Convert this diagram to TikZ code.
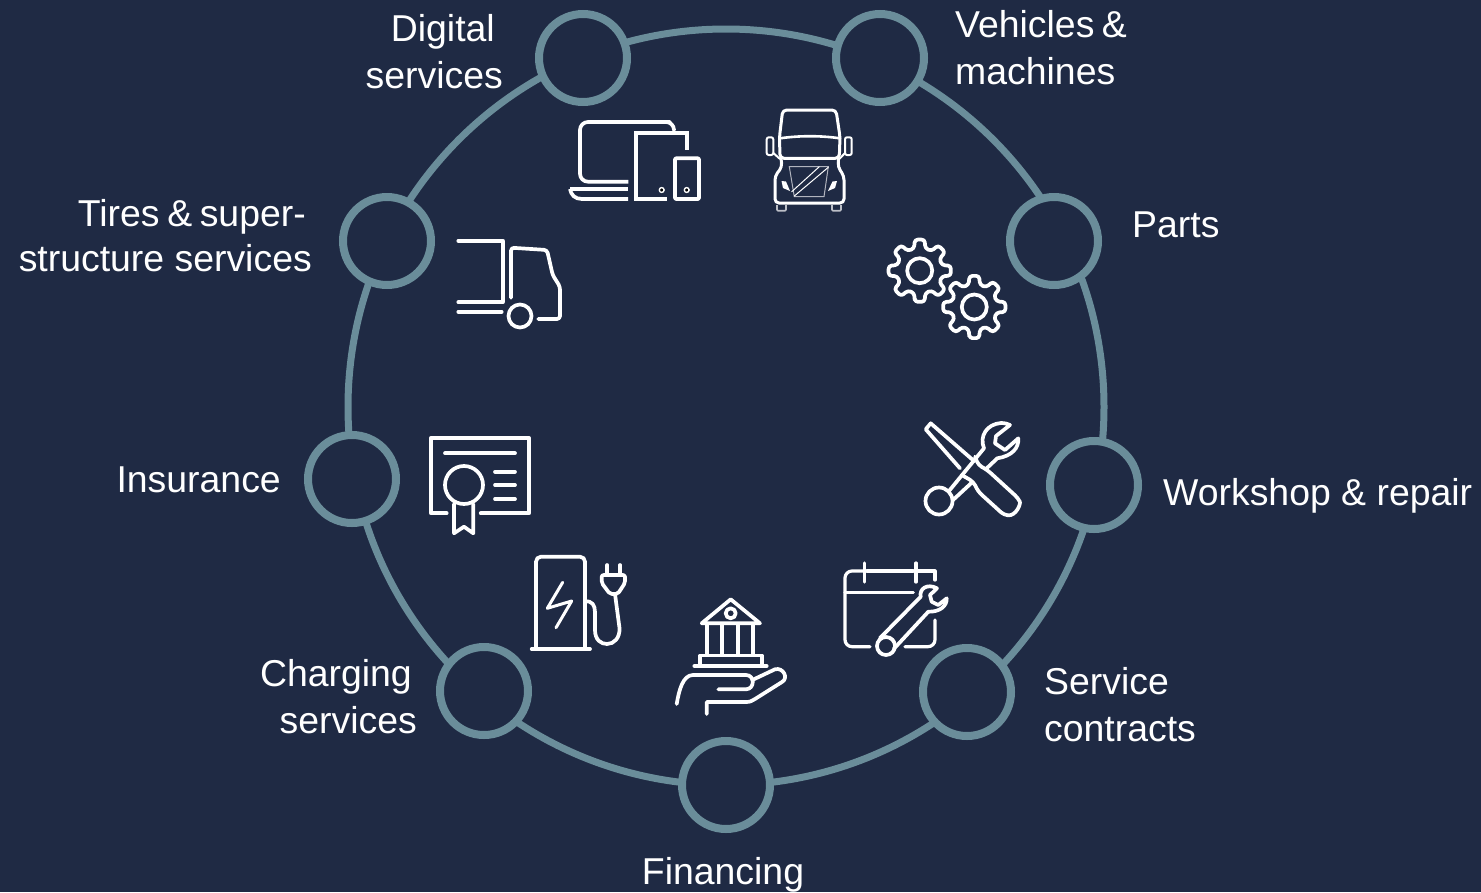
\documentclass[tikz,border=0pt]{standalone}
\usepackage{fontspec}
\setmainfont{Liberation Sans}
\definecolor{bgnavy}{HTML}{1F2A44}
\definecolor{ringteal}{HTML}{6A8D9A}
\tikzset{
  ringline/.style={circle,draw=ringteal,line width=7pt,minimum size=756pt,inner sep=0pt},
  station/.style={circle,draw=ringteal,fill=bgnavy,line width=8pt,minimum size=88pt,inner sep=0pt},
  lab/.style={text=white,font=\fontsize{37.4}{47}\selectfont,inner sep=0pt},
  ico/.style={draw=white,line width=3.7pt,line cap=round,line join=round},
  icothin/.style={draw=white,line width=1.2pt,line cap=round,line join=round},
  gearpath/.pic={
    \draw[ico,rounded corners=3pt] (99:31.5)
      \foreach \a in {90,45,0,-45,-90,-135,-180,-225} {
        -- ({\a+9}:31.5) -- ({\a-9}:31.5) -- ({\a-14}:23) -- ({\a-31}:23)
      } -- cycle;
    \draw[ico] (0,0) circle (12.5);
  }
}
\begin{document}
\begin{tikzpicture}[x=1pt,y=-1pt]
\useasboundingbox[fill=bgnavy] (0,0) rectangle (1481,892);
\node[ringline] (ring) at (726,407) {};
\node[station] (n1) at (583,58) {};
\node[station] (n2) at (880,58) {};
\node[station] (n3) at (1054,241) {};
\node[station] (n4) at (1094,485) {};
\node[station] (n5) at (967,692) {};
\node[station] (n6) at (726,785) {};
\node[station] (n7) at (484,691) {};
\node[station] (n8) at (352,479) {};
\node[station] (n9) at (387,241) {};
% labels
\node[lab,align=right,anchor=east] (l1) at (503,51.5) {Digital\kern8pt\\services};
\node[lab,align=left,anchor=west] (l2) at (955,47.5) {Vehicles\hspace{-3pt} \&\\machines};
\node[lab,anchor=west] (l3) at (1132,225) {Parts};
\node[lab,anchor=west] (l4) at (1163,496) {Workshop \& repair};
\node[lab,align=left,anchor=west] (l5) at (1044,705) {Service\\contracts};
\node[lab,anchor=center] (l6) at (723,875) {Financing};
\node[lab,align=right,anchor=east] (l7) at (417,697) {Charging\kern5pt\\services};
\node[lab,anchor=east] (l8) at (281,480) {Insurance};
\node[lab,align=right,anchor=east] (l9) at (312,236) {Tires\hspace{-2.5pt} \&\hspace{-3pt} super-\kern6pt\\[-2pt]structure services};
% devices
\draw[ico,line cap=butt,rounded corners=8pt] (628.3,181.7) -- (580,181.7) -- (580,122) -- (662,122) -- (674,122) -- (674,129);
\draw[ico,line cap=butt] (570,189) -- (628,189);
\draw[ico,line cap=butt] (628,199) -- (582,199) .. controls (575,199) and (571,195) .. (570,189);
\draw[ico,line cap=butt,line join=miter] (666.7,199) -- (636,199) -- (636,133.3) -- (687.3,133.3) -- (687.3,150);
\draw[ico,rounded corners=1pt] (675,158.3) rectangle (699,199);
\draw[draw=white,fill=black,line width=1.4pt] (661.7,190) circle (2.4);
\draw[draw=white,fill=black,line width=1.4pt] (686.7,190) circle (2.4);
% semi truck
\draw[ico,line width=3pt,rounded corners=4pt] (780,158.3) -- (779.5,136.7) -- (782.7,110) -- (836,110) -- (840,136.7) -- (839.3,158.3) -- cycle;
\draw[ico,line width=2.6pt] (780,138.3) .. controls (800,135.5) and (820,135.5) .. (840,138.3);
\draw[icothin,line width=2pt,rounded corners=2pt] (766.7,137.3) rectangle (773.3,155);
\draw[icothin,line width=2pt,rounded corners=2pt] (845,137.3) rectangle (851.7,155);
\draw[icothin,line width=2pt] (773.3,153) -- (780,159);
\draw[icothin,line width=2pt] (845,153) -- (839.3,159);
\draw[ico,line width=3pt,rounded corners=4pt] (781,158.3) -- (782,167) -- (775,176) -- (775,203) -- (844,203) -- (844,176) -- (838,167) -- (838.5,158.3);
\draw[draw=white!65!bgnavy,line width=1pt] (789.3,166.7) -- (828.3,166.7) -- (824,196.7) -- (794.3,196.7) -- cycle;
\draw[icothin,line width=1pt] (791.7,191.7) -- (819.3,166.7);
\draw[icothin,line width=1pt] (794.3,196) -- (828.3,167.3);
\path[fill=white] (781.5,181) -- (786,181.5) -- (790,191) -- (783,188) -- cycle;
\path[fill=white] (837,181) -- (832.5,181.5) -- (828,191) -- (835,188) -- cycle;
\draw[draw=white!70!bgnavy,line width=1.6pt,rounded corners=1pt] (777,205) -- (777,210.7) -- (786,210.7) -- (786,205);
\draw[draw=white!70!bgnavy,line width=1.6pt,rounded corners=1pt] (832,205) -- (832,210.7) -- (841,210.7) -- (841,205);
% delivery truck
\draw[ico] (458.3,240.7) -- (502.7,240.7) -- (502.7,302.3) -- (458.3,302.3);
\draw[ico] (458.3,311.7) -- (501.7,311.7);
\draw[ico,rounded corners=3pt] (511,297.7) -- (511,247.7) -- (547,250) -- (552.7,275) -- (560,286.7) -- (560,319) -- (538.3,319);
\draw[ico] (520,316) circle (11.5);
% gears
\pic at (919.7,270.7) {gearpath};
\pic at (974.3,307) {gearpath};
% tools
\draw[ico] (960,468.3) -- (925.7,429.3) -- (930.7,423.3) -- (974,461);
\draw[ico,rounded corners=4pt] (975,456.7) -- (978.3,465) -- (987.3,470) -- (1018,498) .. controls (1021,504) and (1016,516) .. (1004,515) -- (978.3,491.7) -- (973.3,481.7) -- (961.7,475);
\draw[ico] (939,501) circle (13.5);
\draw[ico] (949,491) -- (984,448.3) .. controls (979,436) and (987,424) .. (1001,423) .. controls (1005,423) and (1008,424) .. (1010,425) -- (996,436) -- (995,443.3) -- (1005,450) -- (1018.3,438.3) .. controls (1019,448) and (1012,456) .. (997.3,458.3) -- (986.7,468.3);
\draw[ico] (971.7,482.7) -- (953,500);
% certificate
\draw[ico,line join=round] (446.7,513.3) -- (430.7,513.3) -- (430.7,438.3) -- (529.3,438.3) -- (529.3,513.3) -- (480.7,513.3);
\draw[ico] (445,453.3) -- (515,453.3);
\draw[ico] (495,471.7) -- (515,471.7);
\draw[ico] (495,485) -- (515,485);
\draw[ico] (495,499) -- (515,499);
\draw[ico] (464,485) circle (19);
\draw[ico] (454,504) -- (454,533.3) -- (464,526.7) -- (473.3,533.3) -- (473.3,504);
% charger
\draw[ico] (531.7,649) -- (590,649);
\draw[ico,rounded corners=5pt] (536,649) -- (536,556.7) -- (585,556.7) -- (585,649);
\draw[ico,line width=3pt] (562.7,582.3) -- (547.3,608.3) -- (571.7,601) -- (556,627.7);
\draw[ico] (585,601) .. controls (592,601) and (595,605) .. (595,612) -- (595,630) .. controls (595,640) and (601,644) .. (607,644) .. controls (614,644) and (620,638) .. (619.5,628) -- (615,594);
\draw[ico,rounded corners=2pt] (601.7,575) -- (625,575) -- (625,583) -- (617.7,594) -- (610,594) -- (601.7,583) -- cycle;
\draw[ico] (607.3,565) -- (607.3,575);
\draw[ico] (620,565) -- (620,575);
% bank
\draw[ico] (730.7,599.3) -- (701.7,623.3) -- (760,623.3) -- cycle;
\draw[ico] (730.7,613.3) circle (5);
\foreach \cx in {706.7,722.3,738.3,753.3} { \draw[ico] (\cx,625) -- (\cx,655); }
\draw[ico] (700,666) -- (700,655.5) -- (762,655.5) -- (762,666);
\draw[ico] (694.3,666) -- (766.7,666);
\draw[ico] (676.7,704) .. controls (679,690) and (683,675) .. (693,675) -- (746,675) .. controls (755,675) and (755,689) .. (746,689.3) -- (718.3,689.3);
\draw[ico] (752.3,680) -- (775,669.3) .. controls (783,667) and (789,678) .. (782,682) -- (755,699) .. controls (752,701) and (750,702) .. (746,702) -- (706.7,702) -- (706.7,714);
% calendar
\draw[ico,line width=3.2pt,rounded corners=7pt] (862.7,571) -- (845,571) -- (845,646.7) -- (870,646.7);
\draw[ico,line width=3.2pt] (866.7,571) -- (913.3,571);
\draw[ico,line width=3.2pt] (918.3,571) -- (935,571) -- (935,580);
\draw[ico,line width=3.2pt] (864.3,563) -- (864.3,582);
\draw[ico,line width=3.2pt] (916,563) -- (916,582);
\draw[ico,line width=3.2pt] (845,592.7) -- (913.3,592.7);
\draw[ico,line width=3.2pt,rounded corners=7pt] (935,620) -- (935,646.7) -- (905,646.7);
\draw[ico] (886,646) circle (9);
\draw[ico] (880,638) -- (920.7,596.7) .. controls (919,589) and (927,583) .. (937,588.3) -- (930,595) -- (931.7,601.7) -- (938.3,605) -- (946.7,598.3) .. controls (947,606) and (940,612) .. (928.3,611.7) -- (893.7,649);
\end{tikzpicture}
\end{document}
